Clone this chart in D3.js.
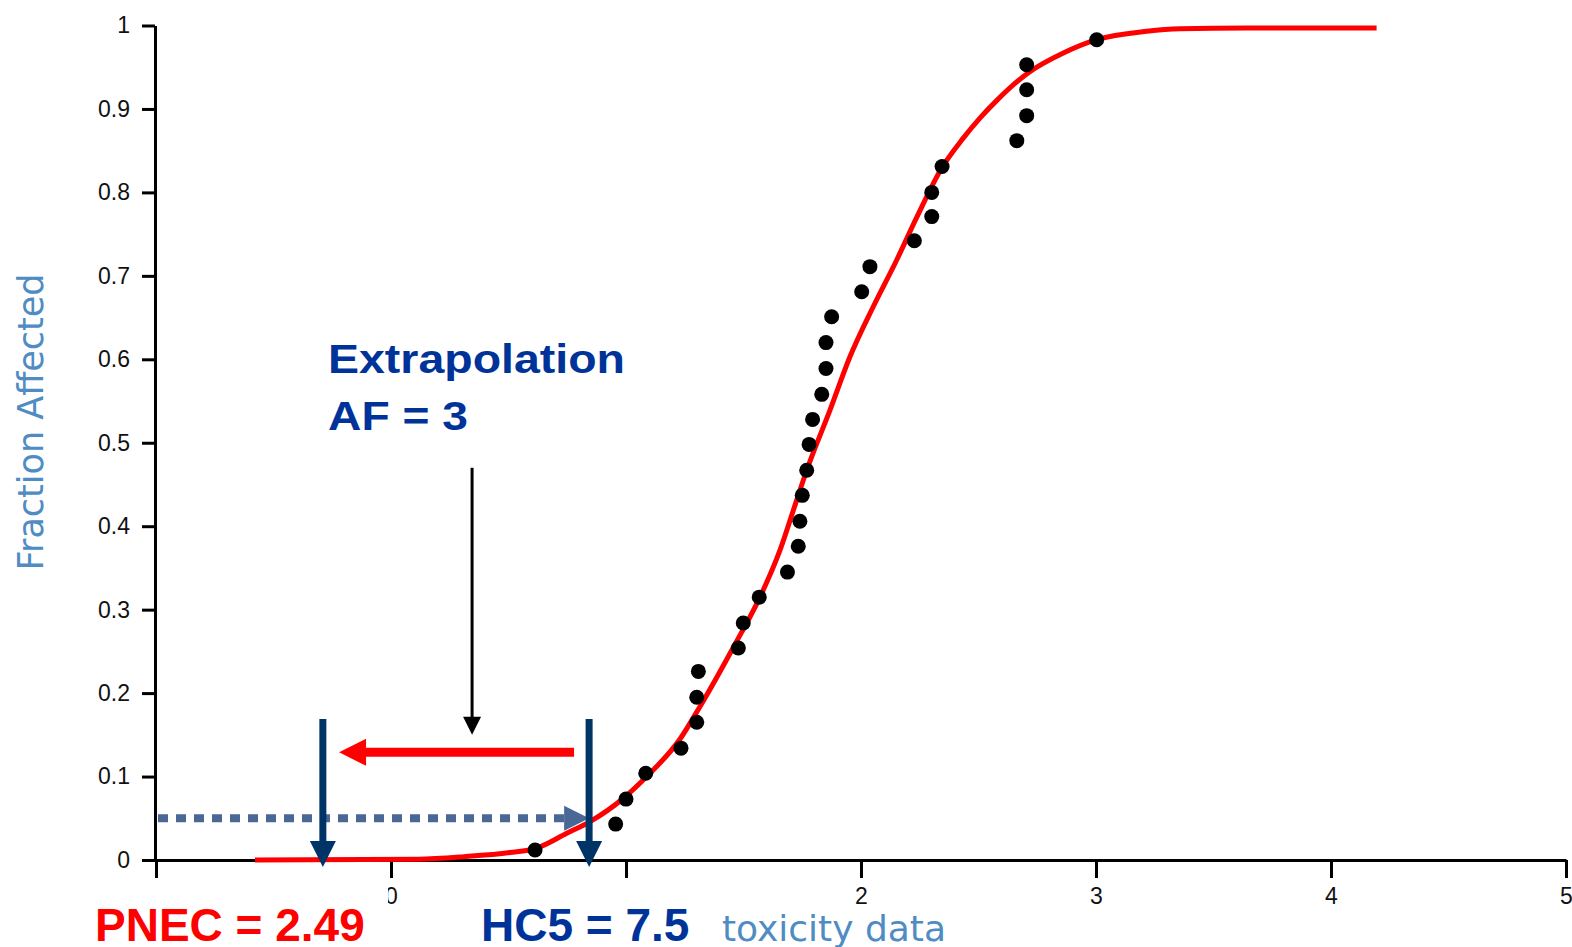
<!DOCTYPE html>
<html>
<head>
<meta charset="utf-8">
<script src="https://cdn.jsdelivr.net/npm/d3@7"></script>
<style>
  body { margin: 0; background: #ffffff; }
  .tick text { font-family: "Liberation Sans", Arial, sans-serif; font-size: 23px; fill: #111; }
</style>
</head>
<body>
<div id="chart"></div>
<script>
// sensitivity distribution, log10 toxicity vs fraction affected
var pointX = [0.613, 0.956, 1.000, 1.084, 1.234, 1.301, 1.301, 1.308, 1.478, 1.499, 1.567,
  1.687, 1.733, 1.740, 1.750, 1.769, 1.779, 1.794, 1.833, 1.851, 1.851, 1.875, 2.003,
  2.038, 2.227, 2.301, 2.301, 2.345, 2.663, 2.705, 2.705, 2.705, 3.003];
var pointF = [0.012, 0.043, 0.073, 0.104, 0.134, 0.165, 0.195, 0.226, 0.254, 0.284, 0.315,
  0.345, 0.376, 0.406, 0.437, 0.467, 0.498, 0.528, 0.558, 0.589, 0.620, 0.651, 0.681,
  0.711, 0.742, 0.771, 0.800, 0.831, 0.862, 0.892, 0.923, 0.953, 0.983];

// fitted curve
var curveX = [-0.579, 0.115, 0.311, 0.506, 0.617, 0.748, 0.847, 0.989, 1.088, 1.230, 1.315,
  1.457, 1.570, 1.655, 1.726, 1.769, 1.868, 1.953, 2.052, 2.152, 2.237, 2.343, 2.435,
  2.506, 2.577, 2.705, 2.861, 3.003, 3.216, 3.357, 3.641, 4.194];
var curveF = [0, 0.001, 0.004, 0.009, 0.014, 0.032, 0.046, 0.074, 0.100, 0.145, 0.184,
  0.255, 0.315, 0.371, 0.431, 0.467, 0.539, 0.603, 0.663, 0.719, 0.770, 0.829, 0.865,
  0.889, 0.910, 0.942, 0.967, 0.983, 0.993, 0.996, 0.997, 0.997];

var xMajor = [-1, 0, 1, 2, 3, 4, 5];
var xLabels = ["", "0", "", "2", "3", "4", "5"]; // -1 and 1 sit under the label boxes
var xMinor = [-0.5, 0.5, 1.5, 2.5, 3.5, 4.5];
var yMajor = [0, 0.1, 0.2, 0.3, 0.4, 0.5, 0.6, 0.7, 0.8, 0.9, 1];
var yMinor = [0.05, 0.15, 0.25, 0.35, 0.45, 0.55, 0.65, 0.75, 0.85, 0.95];

// annotation positions (data units)
var hc5Log = 0.843;
var pnecLog = -0.29;
var hc5Frac = 0.05;

var svgWidth = 1572;
var svgHeight = 947;

var svg = d3.select("#chart")
  .append("svg")
  .attr("width", svgWidth)
  .attr("height", svgHeight)
  .style("display", "block");

var xScale = d3.scaleLinear().domain([-1, 5]).range([156, 1566]);
var yScale = d3.scaleLinear().domain([0, 1]).range([860, 25.5]);

// axes
var xAxisG = svg.append("g").attr("transform", "translate(0, 860)");
xAxisG.call(d3.axisBottom(xScale).tickValues(xMinor).tickSize(13).tickSizeOuter(0).tickFormat(""));
xAxisG.call(d3.axisBottom(xScale).tickValues(xMajor).tickSize(18).tickSizeOuter(0).tickPadding(10)
  .tickFormat((d, i) => xLabels[i]));

var yAxisG = svg.append("g").attr("transform", "translate(155, 0)");
yAxisG.call(d3.axisLeft(yScale).tickValues(yMinor).tickSize(8).tickSizeOuter(0).tickFormat(""));
yAxisG.call(d3.axisLeft(yScale).tickValues(yMajor).tickSize(13).tickSizeOuter(0).tickPadding(12)
  .tickFormat(d => (d === 0 || d === 1) ? d : d.toFixed(1)));

svg.selectAll(".domain, .tick line")
  .attr("stroke", "#000")
  .attr("stroke-width", 3);

// axis titles
svg.append("text")
  .attr("transform", "translate(43, 422) rotate(-90)")
  .attr("text-anchor", "middle")
  .style("font-family", "'DejaVu Sans', sans-serif")
  .style("font-size", "35px")
  .attr("fill", "#4f8cc4")
  .text("Fraction Affected");

// x title is partly hidden behind the HC5 box
svg.append("clipPath").attr("id", "xtclip")
  .append("rect").attr("x", 711).attr("y", 880).attr("width", 400).attr("height", 67);

svg.append("text")
  .attr("x", 946)
  .attr("y", 941)
  .attr("text-anchor", "end")
  .attr("clip-path", "url(#xtclip)")
  .style("font-family", "'DejaVu Sans', sans-serif")
  .style("font-size", "36px")
  .attr("fill", "#4f8cc4")
  .text("Log10 toxicity data");

// fitted curve
var curveData = curveX.map((x, i) => ({ x: x, f: curveF[i] }));
var line = d3.line()
  .x(d => xScale(d.x))
  .y(d => yScale(d.f))
  .curve(d3.curveMonotoneX);

svg.append("path")
  .datum(curveData)
  .attr("d", line)
  .attr("fill", "none")
  .attr("stroke", "#ff0000")
  .attr("stroke-width", 5);

// data points
var pointData = pointX.map((x, i) => ({ x: x, f: pointF[i] }));
svg.selectAll(".pt")
  .data(pointData)
  .enter()
  .append("circle")
  .attr("class", "pt")
  .attr("cx", d => xScale(d.x))
  .attr("cy", d => yScale(d.f))
  .attr("r", 7.5)
  .attr("fill", "#000");

// arrow helper: shaft + triangle head
function arrow(x1, y1, x2, y2, shaftW, headW, headL, color, dash) {
  var dx = x2 - x1, dy = y2 - y1;
  var len = Math.sqrt(dx * dx + dy * dy);
  var ux = dx / len, uy = dy / len;
  var bx = x2 - ux * headL, by = y2 - uy * headL;
  svg.append("line")
    .attr("x1", x1).attr("y1", y1)
    .attr("x2", bx + ux * 1).attr("y2", by + uy * 1)
    .attr("stroke", color)
    .attr("stroke-width", shaftW)
    .attr("stroke-dasharray", dash || null);
  var px = -uy * headW / 2, py = ux * headW / 2;
  svg.append("polygon")
    .attr("points", [[x2, y2], [bx + px, by + py], [bx - px, by - py]].map(p => p.join(",")).join(" "))
    .attr("fill", color);
}

// dotted arrow at 5 % level towards HC5
arrow(xScale(-1) + 2, yScale(hc5Frac), xScale(hc5Log), yScale(hc5Frac), 8, 25, 25, "#4a6896", "10,8");

// navy arrows down to axis
arrow(xScale(pnecLog), yScale(0.169), xScale(pnecLog), yScale(-0.0085), 7, 26, 26, "#003366");
arrow(xScale(hc5Log), yScale(0.169), xScale(hc5Log), yScale(-0.0085), 7, 26, 26, "#003366");

// red extrapolation arrow
arrow(xScale(0.779), yScale(0.129), xScale(-0.221), yScale(0.129), 9, 27, 27, "#ff0000");

// black pointer arrow
arrow(xScale(0.345), yScale(0.47), xScale(0.345), yScale(0.15), 3, 18, 18, "#000");

// extrapolation label
svg.append("text")
  .attr("x", 328).attr("y", 373)
  .attr("textLength", 297).attr("lengthAdjust", "spacingAndGlyphs")
  .style("font-family", "'Liberation Sans', Arial, sans-serif")
  .style("font-size", "40px").style("font-weight", "bold")
  .attr("fill", "#003399")
  .text("Extrapolation");
svg.append("text")
  .attr("x", 328).attr("y", 430)
  .attr("textLength", 140).attr("lengthAdjust", "spacingAndGlyphs")
  .style("font-family", "'Liberation Sans', Arial, sans-serif")
  .style("font-size", "40px").style("font-weight", "bold")
  .attr("fill", "#003399")
  .text("AF = 3");

// white label boxes at the bottom
svg.append("rect").attr("x", 70).attr("y", 883).attr("width", 318).attr("height", 64).attr("fill", "#fff");
svg.append("rect").attr("x", 456).attr("y", 885).attr("width", 255).attr("height", 62).attr("fill", "#fff");

svg.append("text")
  .attr("x", 95).attr("y", 941)
  .style("font-family", "'Liberation Sans', Arial, sans-serif")
  .style("font-size", "46px").style("font-weight", "bold")
  .attr("fill", "#ff0000")
  .text("PNEC = 2.49");

svg.append("text")
  .attr("x", 481).attr("y", 941)
  .style("font-family", "'Liberation Sans', Arial, sans-serif")
  .style("font-size", "46px").style("font-weight", "bold")
  .attr("fill", "#003399")
  .text("HC5 = 7.5");
</script>
</body>
</html>
